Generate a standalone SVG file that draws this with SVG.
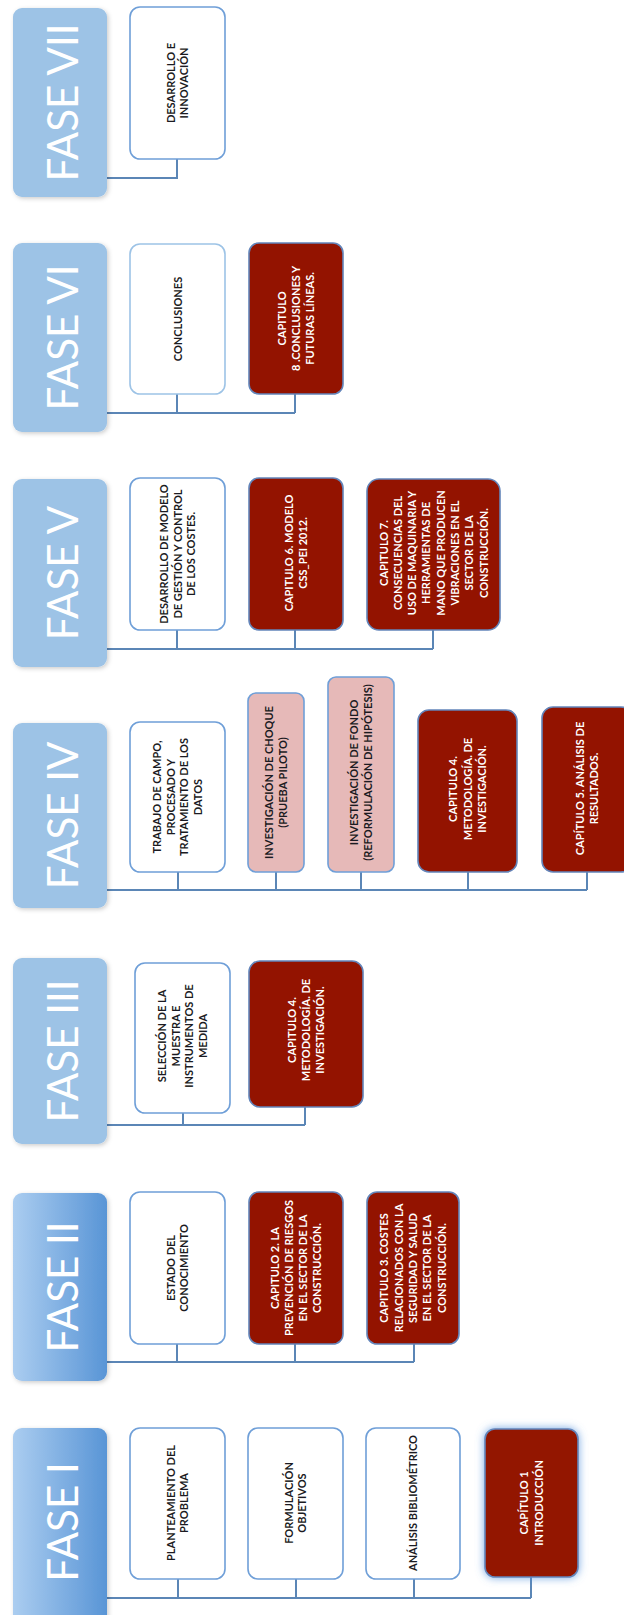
<svg xmlns="http://www.w3.org/2000/svg" width="624" height="1615" viewBox="0 0 624 1615">
<style>
.fase{fill:#9dc3e6;}
.ft{font-family:Lato,"Liberation Sans",sans-serif;font-size:42px;fill:#ffffff;text-anchor:middle;}
.wb{fill:#ffffff;stroke:#6f9fd8;stroke-width:1.6;}
.pb{fill:#e6b9b8;stroke:#6f9fd8;stroke-width:1.6;}
.rb{fill:#931300;stroke:#6385ba;stroke-width:1.6;}
.t{font-family:Lato,"Liberation Sans",sans-serif;font-size:11px;font-weight:bold;text-anchor:middle;fill:#1b1b22;}
.tw{font-family:Lato,"Liberation Sans",sans-serif;font-size:11px;font-weight:bold;text-anchor:middle;fill:#ffffff;}
.c{fill:none;stroke:#5b86b6;stroke-width:2;}
</style>
<defs>
<linearGradient id="g12" x1="0" y1="0" x2="1" y2="0">
<stop offset="0" stop-color="#abcdf0"/>
<stop offset="1" stop-color="#5995d6"/>
</linearGradient>
<filter id="sh" x="-20%" y="-20%" width="140%" height="140%">
<feDropShadow dx="1.5" dy="1.5" stdDeviation="2" flood-color="#000000" flood-opacity="0.2"/>
</filter>
<filter id="glow" x="-30%" y="-30%" width="160%" height="160%">
<feDropShadow dx="0" dy="0" stdDeviation="4" flood-color="#4f8fdc" flood-opacity="0.8"/>
</filter>
</defs>

<g id="connectors">
<path class="c" d="M107 178H177V159"/>
<path class="c" d="M107 413H295M177 413V394M295 413V394"/>
<path class="c" d="M107 649H433M177 649V630M295 649V630M433 649V630"/>
<path class="c" d="M107 890H587M178 890V872M276 890V872M361 890V872M468 890V872M587 890V872"/>
<path class="c" d="M107 1125H305M183 1125V1113M305 1125V1107"/>
<path class="c" d="M107 1362H414M177 1362V1344M295 1362V1344M414 1362V1344"/>
<path class="c" d="M107 1598H531M178 1598V1579M296 1598V1579M414 1598V1579M531 1598V1577"/>
</g>

<!-- FASE VII -->
<g id="fase7">
<rect class="fase" x="13" y="8" width="94" height="189" rx="9" filter="url(#sh)"/>
<text class="ft" transform="translate(78,102.5) rotate(-90)">FASE VII</text>
</g>
<g id="n7a">
<rect class="wb" x="130" y="7" width="95" height="152" rx="10"/>
<text class="t" transform="translate(177.5,83) rotate(-90)"><tspan x="0" dy="-2.75">DESARROLLO E</tspan><tspan x="0" dy="13.5">INNOVACIÓN</tspan></text>
</g>

<!-- FASE VI -->
<g id="fase6">
<rect class="fase" x="13" y="243" width="94" height="189" rx="9" filter="url(#sh)"/>
<text class="ft" transform="translate(78,337.5) rotate(-90)">FASE VI</text>
</g>
<g id="n6a">
<rect class="wb" x="130" y="244" width="95" height="150" rx="10" style="stroke:#9dc3e6"/>
<text class="t" transform="translate(177.5,319) rotate(-90)"><tspan x="0" dy="4">CONCLUSIONES</tspan></text>
</g>
<g id="n6b">
<rect class="rb" x="249" y="243" width="94" height="151" rx="10"/>
<text class="tw" transform="translate(296,318.5) rotate(-90)"><tspan x="0" dy="-10.3">CAPITULO</tspan><tspan x="0" dy="14.3">8 .CONCLUSIONES Y</tspan><tspan x="0" dy="14.3">FUTURAS LÍNEAS.</tspan></text>
</g>

<!-- FASE V -->
<g id="fase5">
<rect class="fase" x="13" y="479" width="94" height="188" rx="9" filter="url(#sh)"/>
<text class="ft" transform="translate(78,573) rotate(-90)">FASE V</text>
</g>
<g id="n5a">
<rect class="wb" x="130" y="478" width="95" height="152" rx="10"/>
<text class="t" transform="translate(177.5,554) rotate(-90)"><tspan x="0" dy="-9.5">DESARROLLO DE MODELO</tspan><tspan x="0" dy="13.5">DE GESTIÓN Y CONTROL</tspan><tspan x="0" dy="13.5">DE LOS COSTES.</tspan></text>
</g>
<g id="n5b">
<rect class="rb" x="249" y="478" width="94" height="152" rx="10"/>
<text class="tw" transform="translate(296,553) rotate(-90)"><tspan x="0" dy="-3.15">CAPITULO 6. MODELO</tspan><tspan x="0" dy="14.3">CSS_PEI 2012.</tspan></text>
</g>
<g id="n5c">
<rect class="rb" x="367" y="479" width="133" height="151" rx="12"/>
<text class="tw" transform="translate(433.5,553) rotate(-90)"><tspan x="0" dy="-46">CAPITULO 7.</tspan><tspan x="0" dy="14.3">CONSECUENCIAS DEL</tspan><tspan x="0" dy="14.3">USO DE MAQUINARIA Y</tspan><tspan x="0" dy="14.3">HERRAMIENTAS DE</tspan><tspan x="0" dy="14.3">MANO QUE PRODUCEN</tspan><tspan x="0" dy="14.3">VIBRACIONES EN EL</tspan><tspan x="0" dy="14.3">SECTOR DE LA</tspan><tspan x="0" dy="14.3">CONSTRUCCIÓN.</tspan></text>
</g>

<!-- FASE IV -->
<g id="fase4">
<rect class="fase" x="13" y="723" width="94" height="185" rx="9" filter="url(#sh)"/>
<text class="ft" transform="translate(78,815.5) rotate(-90)">FASE IV</text>
</g>
<g id="n4a">
<rect class="wb" x="130" y="722" width="95" height="150" rx="10"/>
<text class="t" transform="translate(177.5,797) rotate(-90)"><tspan x="0" dy="-16.25">TRABAJO DE CAMPO,</tspan><tspan x="0" dy="13.5">PROCESADO Y</tspan><tspan x="0" dy="13.5">TRATAMIENTO DE LOS</tspan><tspan x="0" dy="13.5">DATOS</tspan></text>
</g>
<g id="n4b">
<rect class="pb" x="248" y="693" width="56" height="179" rx="8"/>
<text class="t" transform="translate(276,782.5) rotate(-90)"><tspan x="0" dy="-2.75">INVESTIGACIÓN DE CHOQUE</tspan><tspan x="0" dy="13.5">(PRUEBA PILOTO)</tspan></text>
</g>
<g id="n4c">
<rect class="pb" x="328" y="677" width="66" height="195" rx="8"/>
<text class="t" transform="translate(361,772.5) rotate(-90)"><tspan x="0" dy="-2.75">INVESTIGACIÓN DE FONDO</tspan><tspan x="0" dy="13.5">(REFORMULACIÓN DE HIPÓTESIS)</tspan></text>
</g>
<g id="n4d">
<rect class="rb" x="418" y="710" width="99" height="162" rx="11"/>
<text class="tw" transform="translate(467.5,789) rotate(-90)"><tspan x="0" dy="-10.3">CAPITULO 4.</tspan><tspan x="0" dy="14.3">METODOLOGÍA. DE</tspan><tspan x="0" dy="14.3">INVESTIGACIÓN.</tspan></text>
</g>
<g id="n4e">
<rect class="rb" x="542" y="707" width="90" height="165" rx="11"/>
<text class="tw" transform="translate(587,788.5) rotate(-90)"><tspan x="0" dy="-3.15">CAPÍTULO 5. ANÁLISIS DE</tspan><tspan x="0" dy="14.3">RESULTADOS.</tspan></text>
</g>

<!-- FASE III -->
<g id="fase3">
<rect class="fase" x="13" y="958" width="94" height="186" rx="9" filter="url(#sh)"/>
<text class="ft" transform="translate(78,1051) rotate(-90)">FASE III</text>
</g>
<g id="n3a">
<rect class="wb" x="135" y="963" width="95" height="150" rx="10"/>
<text class="t" transform="translate(182.5,1036) rotate(-90)"><tspan x="0" dy="-16.25">SELECCIÓN DE LA</tspan><tspan x="0" dy="13.5">MUESTRA E</tspan><tspan x="0" dy="13.5">INSTRUMENTOS DE</tspan><tspan x="0" dy="13.5">MEDIDA</tspan></text>
</g>
<g id="n3b">
<rect class="rb" x="249" y="961" width="114" height="146" rx="11"/>
<text class="tw" transform="translate(306,1030) rotate(-90)"><tspan x="0" dy="-10.3">CAPITULO 4.</tspan><tspan x="0" dy="14.3">METODOLOGÍA. DE</tspan><tspan x="0" dy="14.3">INVESTIGACIÓN.</tspan></text>
</g>

<!-- FASE II -->
<g id="fase2">
<rect x="13" y="1193" width="94" height="188" rx="9" fill="url(#g12)" filter="url(#sh)"/>
<text class="ft" transform="translate(78,1287) rotate(-90)">FASE II</text>
</g>
<g id="n2a">
<rect class="wb" x="130" y="1192" width="95" height="152" rx="10"/>
<text class="t" transform="translate(177.5,1268) rotate(-90)"><tspan x="0" dy="-2.75">ESTADO DEL</tspan><tspan x="0" dy="13.5">CONOCIMIENTO</tspan></text>
</g>
<g id="n2b">
<rect class="rb" x="249" y="1192" width="94" height="152" rx="10"/>
<text class="tw" transform="translate(296,1268) rotate(-90)"><tspan x="0" dy="-17.45">CAPITULO 2. LA</tspan><tspan x="0" dy="14.3">PREVENCIÓN DE RIESGOS</tspan><tspan x="0" dy="14.3">EN EL SECTOR DE LA</tspan><tspan x="0" dy="14.3">CONSTRUCCIÓN.</tspan></text>
</g>
<g id="n2c">
<rect class="rb" x="367" y="1192" width="92" height="152" rx="10"/>
<text class="tw" transform="translate(413,1268) rotate(-90)"><tspan x="0" dy="-24.6">CAPITULO 3. COSTES</tspan><tspan x="0" dy="14.3">RELACIONADOS CON LA</tspan><tspan x="0" dy="14.3">SEGURIDAD Y SALUD</tspan><tspan x="0" dy="14.3">EN EL SECTOR DE LA</tspan><tspan x="0" dy="14.3">CONSTRUCCIÓN.</tspan></text>
</g>

<!-- FASE I -->
<g id="fase1">
<rect x="13" y="1428" width="94" height="200" rx="9" fill="url(#g12)" filter="url(#sh)"/>
<text class="ft" transform="translate(78,1522) rotate(-90)">FASE I</text>
</g>
<g id="n1a">
<rect class="wb" x="130" y="1428" width="95" height="151" rx="10"/>
<text class="t" transform="translate(177.5,1503) rotate(-90)"><tspan x="0" dy="-2.75">PLANTEAMIENTO DEL</tspan><tspan x="0" dy="13.5">PROBLEMA</tspan></text>
</g>
<g id="n1b">
<rect class="wb" x="248" y="1428" width="95" height="151" rx="10"/>
<text class="t" transform="translate(295.5,1503) rotate(-90)"><tspan x="0" dy="-2.75">FORMULACIÓN</tspan><tspan x="0" dy="13.5">OBJETIVOS</tspan></text>
</g>
<g id="n1c">
<rect class="wb" x="366" y="1428" width="94" height="151" rx="10"/>
<text class="t" transform="translate(413,1503) rotate(-90)"><tspan x="0" dy="4">ANÁLISIS BIBLIOMÉTRICO</tspan></text>
</g>
<g id="n1d">
<rect class="rb" x="485" y="1429" width="93" height="148" rx="10" filter="url(#glow)"/>
<text class="tw" transform="translate(531.5,1503) rotate(-90)"><tspan x="0" dy="-3.15">CAPÍTULO 1</tspan><tspan x="0" dy="14.3">INTRODUCCIÓN</tspan></text>
</g>
</svg>
